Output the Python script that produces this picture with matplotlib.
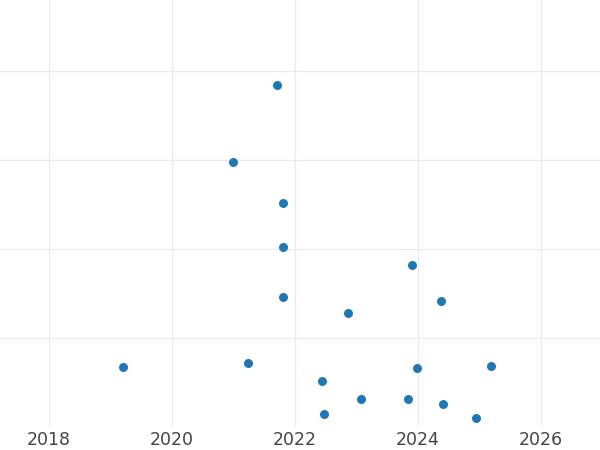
import matplotlib
matplotlib.use("Agg")
import matplotlib.pyplot as plt

# Data (x = year, y = value in grid units)
years = [2021.71, 2020.99, 2021.80, 2021.80, 2023.91, 2021.80, 2024.37, 2022.86,
         2019.20, 2021.24, 2023.99, 2025.19, 2022.44, 2023.08, 2023.84, 2022.47,
         2024.40, 2024.94]
values = [3.84, 2.98, 2.52, 2.02, 1.82, 1.46, 1.42, 1.28,
          0.67, 0.72, 0.66, 0.68, 0.52, 0.32, 0.32, 0.15,
          0.26, 0.10]
xticks = [2018, 2020, 2022, 2024, 2026]

fig = plt.figure(figsize=(6, 4.5), dpi=100)
ax = fig.add_axes([0, 23 / 450, 1, 427 / 450])

ax.scatter(years, values, s=42, color="#1f77b4", zorder=3, linewidths=0)

ax.set_xlim(2017.203, 2026.96)
ax.set_ylim(0, 4.798)
ax.set_xticks(xticks)
ax.set_xticklabels([str(t) for t in xticks])
ax.set_yticks([1, 2, 3, 4])
ax.set_yticklabels([])
ax.grid(True, color="#ebebeb", linewidth=0.9)
ax.set_axisbelow(True)
ax.tick_params(axis="both", length=0, labelsize=12.5, colors="#444444", pad=3)
for s in ax.spines.values():
    s.set_visible(False)

fig.savefig("out.png", dpi=100)
